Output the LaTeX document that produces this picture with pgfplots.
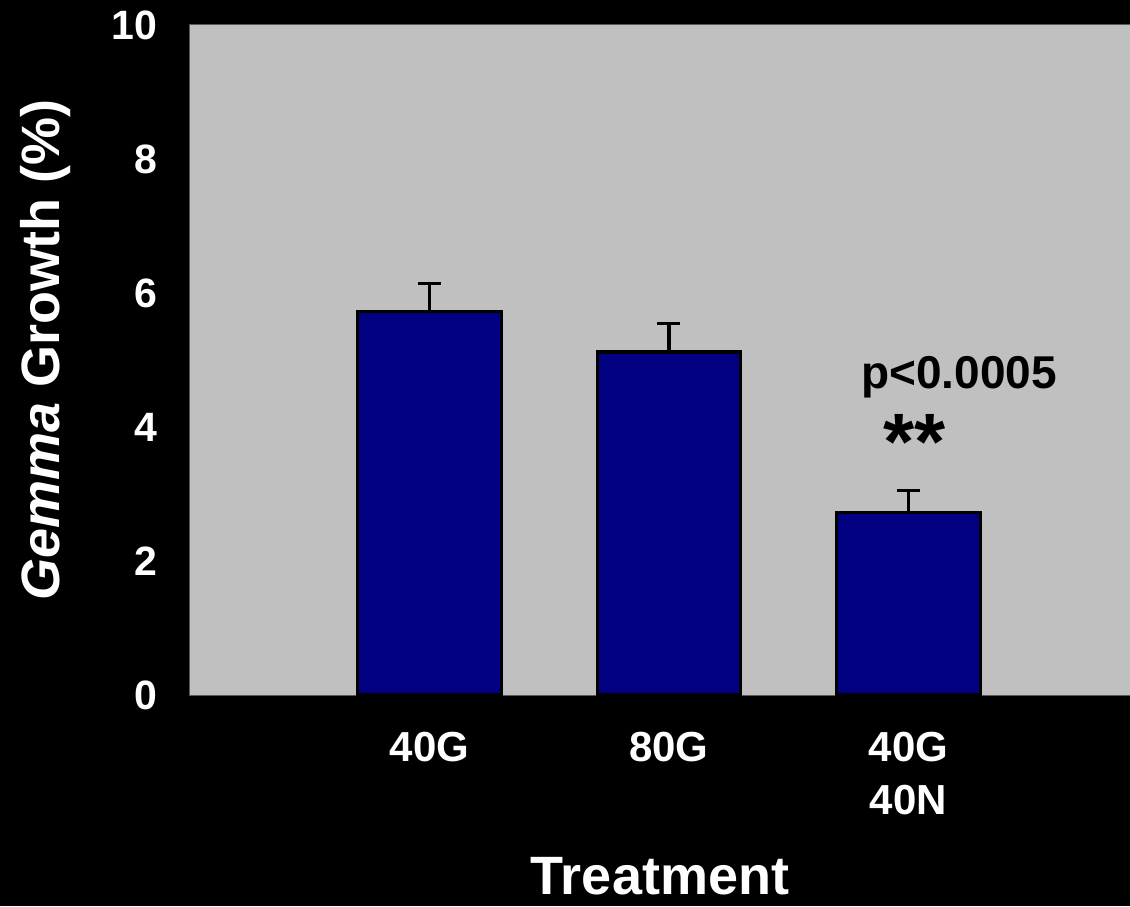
\documentclass[border=0pt]{standalone}
\usepackage{pgfplots}
\pgfplotsset{compat=1.18}
\usepackage{fontspec}
\setmainfont{Liberation Sans}
\definecolor{plotgray}{HTML}{C0C0C0}
\definecolor{barnavy}{HTML}{000080}
\begin{document}
\begin{tikzpicture}
\fill[black] (-95pt,-105.5pt) rectangle (470pt,347.5pt);
\path[use as bounding box] (-95pt,-105.5pt) rectangle (470pt,347.5pt);
\begin{axis}[
  at={(0pt,0pt)}, anchor=south west,
  scale only axis, width=470pt, height=335pt,
  xmin=0, xmax=3.925, ymin=0, ymax=10,
  axis background/.style={fill=plotgray},
  axis line style={draw=gray!70!black, line width=0.5pt},
  xtick={1,2,3},
  xticklabels={40G,80G,{40G\\40N}},
  ytick={0,2,4,6,8,10},
  major tick length=0pt,
  /pgf/number format/assume math mode=true,
  yticklabel style={font=\fontsize{20.5}{25}\selectfont\bfseries, text=white, xshift=-13pt},
  xticklabel style={font=\fontsize{21}{26.5}\selectfont\bfseries, text=white, align=center, anchor=north, yshift=-15pt},
  xlabel={Treatment},
  ylabel={\textit{Gemma} Growth (\%)},
  xlabel style={font=\fontsize{27}{32}\selectfont\bfseries, text=white, inner sep=0pt, at={(axis description cs:0.5,-0.2985)}, anchor=base},
  ylabel style={font=\fontsize{27}{32}\selectfont\bfseries, text=white, at={(axis description cs:-0.154,0.515)}, anchor=center},
  ybar, bar width=0.6,
  clip=false,
]
\addplot[fill=barnavy, draw=black, line width=1.6pt,
  error bars/.cd, y dir=plus, y explicit,
  error bar style={line width=1.6pt, black},
  error mark options={rotate=90, line width=1.6pt, mark size=5.75pt, black}]
  coordinates {(1,5.72) +- (0,0.42) (2,5.12) +- (0,0.42) (3,2.72) +- (0,0.33)};
\node[anchor=base, font=\fontsize{23}{28}\selectfont\bfseries, text=black] at (axis cs:3.211,4.58) {p<0.0005};
\node[anchor=base, font=\fontsize{40}{48}\selectfont\bfseries, text=black] at (axis cs:3.027,3.36) {**};
\end{axis}
\end{tikzpicture}
\end{document}
